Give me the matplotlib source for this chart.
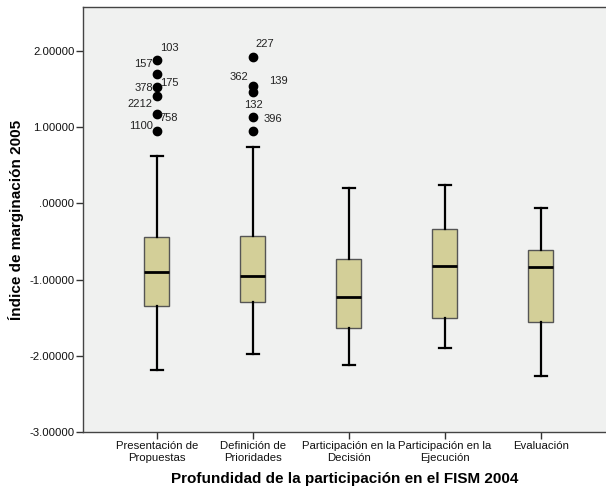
import matplotlib
matplotlib.use("Agg")
import matplotlib.pyplot as plt

categories = ["Presentación de\nPropuestas", "Definición de\nPrioridades",
              "Participación en la\nDecisión", "Participación en la\nEjecución",
              "Evaluación"]
whisker_low = [-2.19, -1.98, -2.12, -1.90, -2.27]
q1 = [-1.35, -1.30, -1.63, -1.50, -1.56]
median = [-0.905, -0.957, -1.232, -0.82, -0.84]
q3 = [-0.446, -0.43, -0.728, -0.341, -0.617]
whisker_high = [0.617, 0.735, 0.197, 0.245, -0.056]
outliers = [
    [1.88, 1.69, 1.53, 1.41, 1.17, 0.954],
    [1.92, 1.54, 1.46, 1.13, 0.954],
    [], [], [],
]
# (group index, outlier value, label)
outlier_labels = [
    (0, 1.88, "103"), (0, 1.88, "157"), (0, 1.53, "175"), (0, 1.53, "378"),
    (0, 1.41, "2212"), (0, 1.17, "758"), (0, 0.954, "1100"),
    (1, 1.92, "227"), (1, 1.54, "362"), (1, 1.54, "139"),
    (1, 1.46, "132"), (1, 1.13, "396"),
]
# label offsets in pixels (dx, dy-down) and horizontal alignment
label_offsets = [
    (3, -12, "left"), (-4, 4, "right"), (3, -4, "left"), (-4, 1, "right"),
    (-4, 8, "right"), (3, 4, "left"), (-4, -5, "right"),
    (3, -13, "left"), (-4, -9, "right"), (16, -5, "left"),
    (1, 13, "center"), (11, 2, "left"),
]
yticks = [-3, -2, -1, 0, 1, 2]
ytick_labels = ["-3.00000", "-2.00000", "-1.00000", ".00000", "1.00000", "2.00000"]
xlabel = "Profundidad de la participación en el FISM 2004"
ylabel = "Índice de marginación 2005"

plt.rcParams['font.family'] = ['Liberation Sans', 'DejaVu Sans']

fig = plt.figure(figsize=(6.06, 4.92), dpi=100)
ax = fig.add_axes([82.7 / 606, 1 - 432 / 492, 1 - 82.7 / 606, (432 - 7.3) / 492])
ax.set_facecolor("#F0F1F0")

stats = []
for i in range(len(categories)):
    stats.append(dict(whislo=whisker_low[i], q1=q1[i], med=median[i], q3=q3[i],
                      whishi=whisker_high[i], fliers=outliers[i]))
positions = list(range(len(categories)))
ax.bxp(stats, positions=positions, widths=0.26, capwidths=0.125, patch_artist=True,
       boxprops=dict(facecolor="#D3CF98", edgecolor="#555555", linewidth=1.0),
       medianprops=dict(color="black", linewidth=2.0),
       whiskerprops=dict(color="black", linewidth=1.6),
       capprops=dict(color="black", linewidth=1.6),
       flierprops=dict(marker="o", markerfacecolor="black", markeredgecolor="black",
                       markersize=6, linestyle="none"))

for (g, v, lab), (dx, dy, ha) in zip(outlier_labels, label_offsets):
    ax.annotate(lab, xy=(positions[g], v), xytext=(dx * 0.72, -dy * 0.72),
                textcoords="offset points", ha=ha, va="center", fontsize=8,
                color="#222222")

ax.set_xlim(-0.771, 4.68)
ax.set_ylim(-3, 2.57)
ax.set_yticks(yticks)
ax.set_yticklabels(ytick_labels)
ax.set_xticks(positions)
ax.set_xticklabels(categories, linespacing=1.2)
ax.tick_params(axis="both", labelsize=8.2, colors="#333333", length=5, width=1,
               direction="out", labelcolor="#111111")
ax.tick_params(axis="x", pad=1.5)
ax.tick_params(axis="y", pad=1)

for s in ["left", "bottom", "top"]:
    ax.spines[s].set_color("#444444")
    ax.spines[s].set_linewidth(1.0)
ax.spines["right"].set_visible(False)

ax.set_xlabel(xlabel, fontsize=11, fontweight="bold", labelpad=7)
ax.set_ylabel(ylabel, fontsize=11, fontweight="bold", labelpad=4)

fig.savefig("out.png", dpi=100, facecolor="white")
